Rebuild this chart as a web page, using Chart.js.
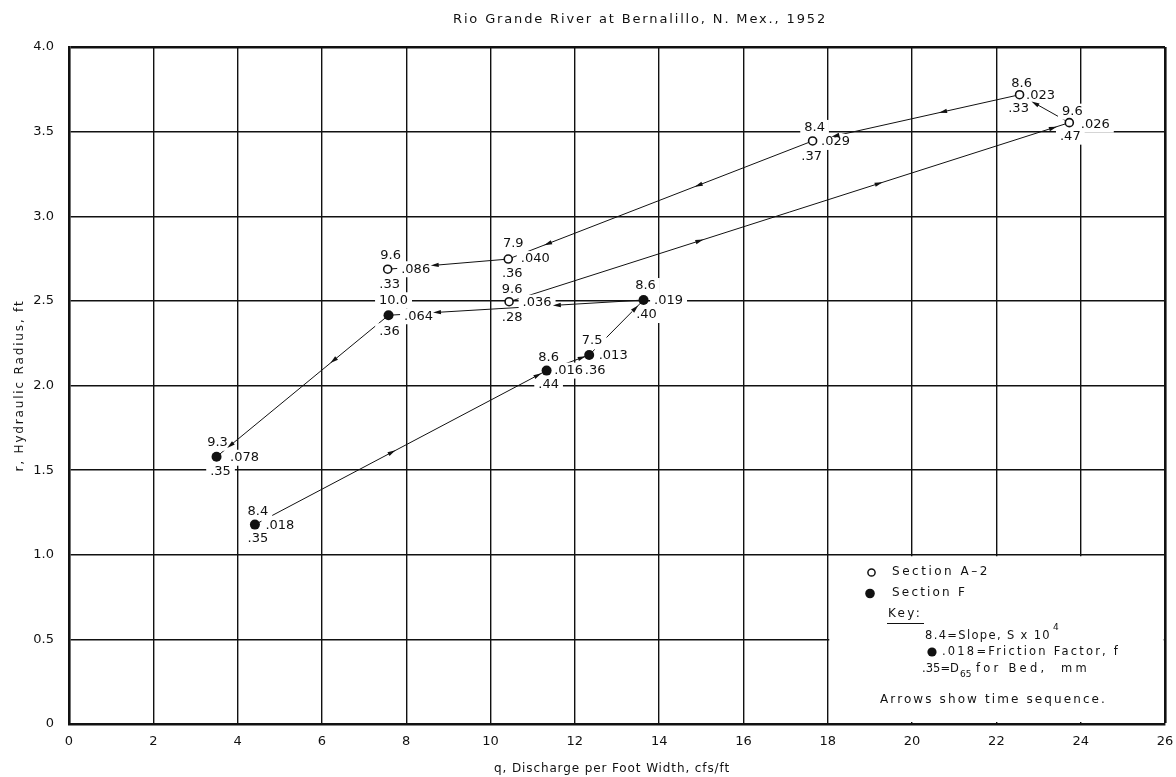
<!DOCTYPE html>
<html>
<head>
<meta charset="utf-8">
<script src="https://cdn.jsdelivr.net/npm/chart.js@4.4.1/dist/chart.umd.min.js"></script>
<style>
  html, body { margin: 0; padding: 0; background: #fff; }
  canvas { display: block; }
</style>
</head>
<body>
<canvas id="chart" width="1176" height="777"></canvas>
<script>
// Section A-2 observations, listed in time order
const a2Q = [10.44, 23.73, 22.55, 17.64, 10.42, 7.56];
const a2R = [2.495, 3.553, 3.718, 3.445, 2.747, 2.687];
const a2Slope = ['9.6', '9.6', '8.6', '8.4', '7.9', '9.6'];
const a2Friction = ['.036', '.026', '.023', '.029', '.040', '.086'];
const a2D65 = ['.28', '.47', '.33', '.37', '.36', '.33'];

// Section F observations, listed in time order
const fQ = [4.41, 11.33, 12.34, 13.63, 7.58, 3.50];
const fR = [1.178, 2.088, 2.180, 2.505, 2.415, 1.579];
const fSlope = ['8.4', '8.6', '7.5', '8.6', '10.0', '9.3'];
const fFriction = ['.018', '.016', '.013', '.019', '.064', '.078'];
const fD65 = ['.35', '.44', '.36', '.40', '.36', '.35'];

// Axis ticks
const xTicks = [0, 2, 4, 6, 8, 10, 12, 14, 16, 18, 20, 22, 24, 26];
const xTickLabels = ['0', '2', '4', '6', '8', '10', '12', '14', '16', '18', '20', '22', '24', '26'];
const yTicks = [0, 0.5, 1.0, 1.5, 2.0, 2.5, 3.0, 3.5, 4.0];
const yTickLabels = ['0', '0.5', '1.0', '1.5', '2.0', '2.5', '3.0', '3.5', '4.0'];

const FONT = '"DejaVu Sans", sans-serif';
const INK = '#111';

// Placement of the three numbers around each point: [slope], [friction], [D65] offsets in px
const a2LabelOffsets = [
  [[3, -12], [28, 1], [3, 16]],
  [[3, -11], [26, 2], [1, 14]],
  [[2, -11], [21, 1], [-1, 14]],
  [[2, -13], [23, 1], [-1, 16]],
  [[5, -15], [27, 0], [4, 15]],
  [[3, -14], [28, 0], [2, 15]]
];
const fLabelOffsets = [
  [[3, -13], [25, 1], [3, 14]],
  [[2, -13], [22, 0], [2, 14]],
  [[3, -14], [24, 1], [6, 16]],
  [[2, -14], [25, 1], [3, 15]],
  [[5, -15], [30, 1], [1, 16]],
  [[1, -14], [28, 1], [4, 15]]
];

// Arrowheads along the time-sequence paths: [segment index, fraction along segment]
const a2Arrows = [[0, 0.34], [0, 0.66], [0, 0.971], [1, 0.69], [2, 0.37], [2, 0.89], [3, 0.375], [3, 0.87], [4, 0.61]];
const fArrows = [[0, 0.47], [0, 0.97], [1, 0.83], [2, 0.85], [3, 0.34], [3, 0.81], [4, 0.32], [4, 0.92]];

const toPoints = (qs, rs) => qs.map((q, i) => ({ x: q, y: rs[i] }));

// Draws text stretched with letter spacing to a given width
function drawSpaced(ctx, text, x, y, width, align) {
  ctx.letterSpacing = '0px';
  const natural = ctx.measureText(text).width;
  const ls = width ? (width - natural) / Math.max(1, text.length) : 0;
  ctx.letterSpacing = ls + 'px';
  ctx.textAlign = 'left';
  let left = x;
  if (align === 'center') left = x - (width || natural) / 2;
  ctx.fillText(text, left, y);
  ctx.letterSpacing = '0px';
}

const annotate = {
  id: 'annotate',
  beforeDatasetsDraw(chart) {
    // Clear the grid inside the key box in the lower right
    const { ctx, scales: { x, y } } = chart;
    const l = x.getPixelForValue(18) + 1.5;
    const r = x.getPixelForValue(26) - 1.3;
    const t = y.getPixelForValue(1.0) + 1.5;
    const b = y.getPixelForValue(0) - 2;
    ctx.save();
    ctx.fillStyle = '#fff';
    ctx.fillRect(l, t, r - l, b - t);
    ctx.restore();
  },
  beforeDatasetDraw(chart, args) {
    if (args.index !== 1) return;
    const { ctx, scales: { x, y } } = chart;
    const groups = [
      { q: a2Q, r: a2R, s: a2Slope, f: a2Friction, d: a2D65, off: a2LabelOffsets, arrows: a2Arrows },
      { q: fQ, r: fR, s: fSlope, f: fFriction, d: fD65, off: fLabelOffsets, arrows: fArrows }
    ];
    ctx.save();
    ctx.font = '13px ' + FONT;
    const labels = [];
    groups.forEach(g => {
      g.q.forEach((q, i) => {
        const px = x.getPixelForValue(q);
        const py = y.getPixelForValue(g.r[i]);
        [g.s[i], g.f[i], g.d[i]].forEach((txt, k) => {
          const o = g.off[i][k];
          labels.push({ txt, cx: px + o[0], cy: py + o[1] });
        });
      });
    });
    // white gaps behind the numbers
    ctx.fillStyle = '#fff';
    labels.forEach(lb => {
      const w = ctx.measureText(lb.txt).width;
      ctx.fillRect(lb.cx - w / 2 - 4, lb.cy - 8, w + 8, 16);
    });
    // arrowheads
    ctx.fillStyle = INK;
    groups.forEach(g => {
      g.arrows.forEach(([seg, t]) => {
        const ax = x.getPixelForValue(g.q[seg]), ay = y.getPixelForValue(g.r[seg]);
        const bx = x.getPixelForValue(g.q[seg + 1]), by = y.getPixelForValue(g.r[seg + 1]);
        const len = Math.hypot(bx - ax, by - ay);
        const ux = (bx - ax) / len, uy = (by - ay) / len;
        const cx = ax + ux * len * t, cy = ay + uy * len * t;
        const nx = -uy, ny = ux;
        ctx.beginPath();
        ctx.moveTo(cx + ux * 4, cy + uy * 4);
        ctx.lineTo(cx - ux * 4 + nx * 2.2, cy - uy * 4 + ny * 2.2);
        ctx.lineTo(cx - ux * 4 - nx * 2.2, cy - uy * 4 - ny * 2.2);
        ctx.closePath();
        ctx.fill();
      });
    });
    // the numbers themselves
    ctx.fillStyle = INK;
    ctx.textBaseline = 'middle';
    ctx.textAlign = 'center';
    labels.forEach(lb => ctx.fillText(lb.txt, lb.cx, lb.cy));
    ctx.restore();
  },
  afterDraw(chart) {
    const { ctx, chartArea } = chart;
    ctx.save();
    ctx.fillStyle = INK;
    ctx.strokeStyle = INK;
    ctx.textBaseline = 'middle';

    // heading
    ctx.font = '13px ' + FONT;
    drawSpaced(ctx, 'Rio Grande River at Bernalillo, N. Mex., 1952', 640, 20, 374, 'center');

    // axis titles
    ctx.font = '12px ' + FONT;
    drawSpaced(ctx, 'q, Discharge per Foot Width, cfs/ft', 612, 769, 236, 'center');
    ctx.save();
    ctx.translate(20, (chartArea.top + chartArea.bottom) / 2);
    ctx.rotate(-Math.PI / 2);
    drawSpaced(ctx, 'r, Hydraulic Radius, ft', 0, 0, 172, 'center');
    ctx.restore();

    // key box
    ctx.font = '12px ' + FONT;
    ctx.lineWidth = 1.5;
    ctx.fillStyle = '#fff';
    ctx.beginPath(); ctx.arc(871.5, 572.5, 3.6, 0, Math.PI * 2); ctx.fill(); ctx.stroke();
    ctx.fillStyle = INK;
    ctx.beginPath(); ctx.arc(870, 593.5, 4.8, 0, Math.PI * 2); ctx.fill();
    drawSpaced(ctx, 'Section A\u20132', 892, 572, 98);
    drawSpaced(ctx, 'Section F', 892, 593, 75);
    drawSpaced(ctx, 'Key:', 888, 614, 34);
    ctx.lineWidth = 1;
    ctx.beginPath(); ctx.moveTo(887, 623.5); ctx.lineTo(924, 623.5); ctx.stroke();
    ctx.font = '11.5px ' + FONT;
    drawSpaced(ctx, '8.4=Slope, S x 10', 925, 636, 126);
    ctx.font = '9px ' + FONT;
    ctx.textAlign = 'left';
    ctx.fillText('4', 1053, 628);
    ctx.font = '11.5px ' + FONT;
    ctx.beginPath(); ctx.arc(932, 652, 4.6, 0, Math.PI * 2); ctx.fill();
    drawSpaced(ctx, '.018=Friction Factor, f', 942, 652, 178);
    drawSpaced(ctx, '.35=D', 922, 669, 37);
    ctx.font = '9px ' + FONT;
    ctx.textAlign = 'left';
    ctx.fillText('65', 960, 675);
    ctx.font = '11.5px ' + FONT;
    drawSpaced(ctx, 'for Bed,  mm', 976, 669, 114);
    ctx.font = '12px ' + FONT;
    drawSpaced(ctx, 'Arrows show time sequence.', 880, 700, 227);
    ctx.restore();
  }
};

const gridWidth = (edgeValue) => (c) => {
  if (!c.tick) return 1.4;
  return c.tick.value === edgeValue ? 2.6 : 1.4;
};

new Chart(document.getElementById('chart'), {
  type: 'scatter',
  data: {
    datasets: [
      {
        label: 'Section A-2',
        data: toPoints(a2Q, a2R),
        showLine: false,
        pointStyle: 'circle',
        pointRadius: 4,
        pointBorderWidth: 1.6,
        pointBackgroundColor: '#fff',
        pointBorderColor: INK
      },
      {
        label: 'Section F',
        data: toPoints(fQ, fR),
        showLine: false,
        pointStyle: 'circle',
        pointRadius: 5,
        pointBorderWidth: 0,
        pointBackgroundColor: INK,
        pointBorderColor: INK
      },
      {
        label: 'A-2 sequence',
        data: toPoints(a2Q, a2R),
        showLine: true,
        pointRadius: 0,
        borderWidth: 1,
        borderColor: INK,
        tension: 0
      },
      {
        label: 'F sequence',
        data: toPoints(fQ, fR),
        showLine: true,
        pointRadius: 0,
        borderWidth: 1,
        borderColor: INK,
        tension: 0
      }
    ]
  },
  options: {
    responsive: false,
    animation: false,
    devicePixelRatio: 1,
    layout: { padding: { top: 47, right: 11, left: 0, bottom: 0 } },
    plugins: { legend: { display: false }, tooltip: { enabled: false }, title: { display: false } },
    scales: {
      x: {
        type: 'linear',
        min: 0,
        max: 26,
        afterBuildTicks: (s) => { s.ticks = xTicks.map(v => ({ value: v })); },
        afterFit: (s) => { s.height = 53; s.paddingLeft = 0; s.paddingRight = 0; },
        ticks: {
          autoSkip: false,
          maxRotation: 0,
          padding: 10,
          color: INK,
          font: { family: FONT, size: 13 },
          callback: (v) => xTickLabels[xTicks.indexOf(v)]
        },
        grid: { color: INK, lineWidth: gridWidth(26), drawTicks: false },
        border: { color: INK, width: 2.6 }
      },
      y: {
        type: 'linear',
        min: 0,
        max: 4,
        afterBuildTicks: (s) => { s.ticks = yTicks.map(v => ({ value: v })); },
        afterFit: (s) => { s.width = 69; s.paddingTop = 0; s.paddingBottom = 0; },
        ticks: {
          padding: 15,
          color: INK,
          font: { family: FONT, size: 13 },
          callback: (v) => yTickLabels[yTicks.indexOf(v)]
        },
        grid: { color: INK, lineWidth: gridWidth(4), drawTicks: false },
        border: { color: INK, width: 2.6 }
      }
    }
  },
  plugins: [annotate]
});
</script>
</body>
</html>
